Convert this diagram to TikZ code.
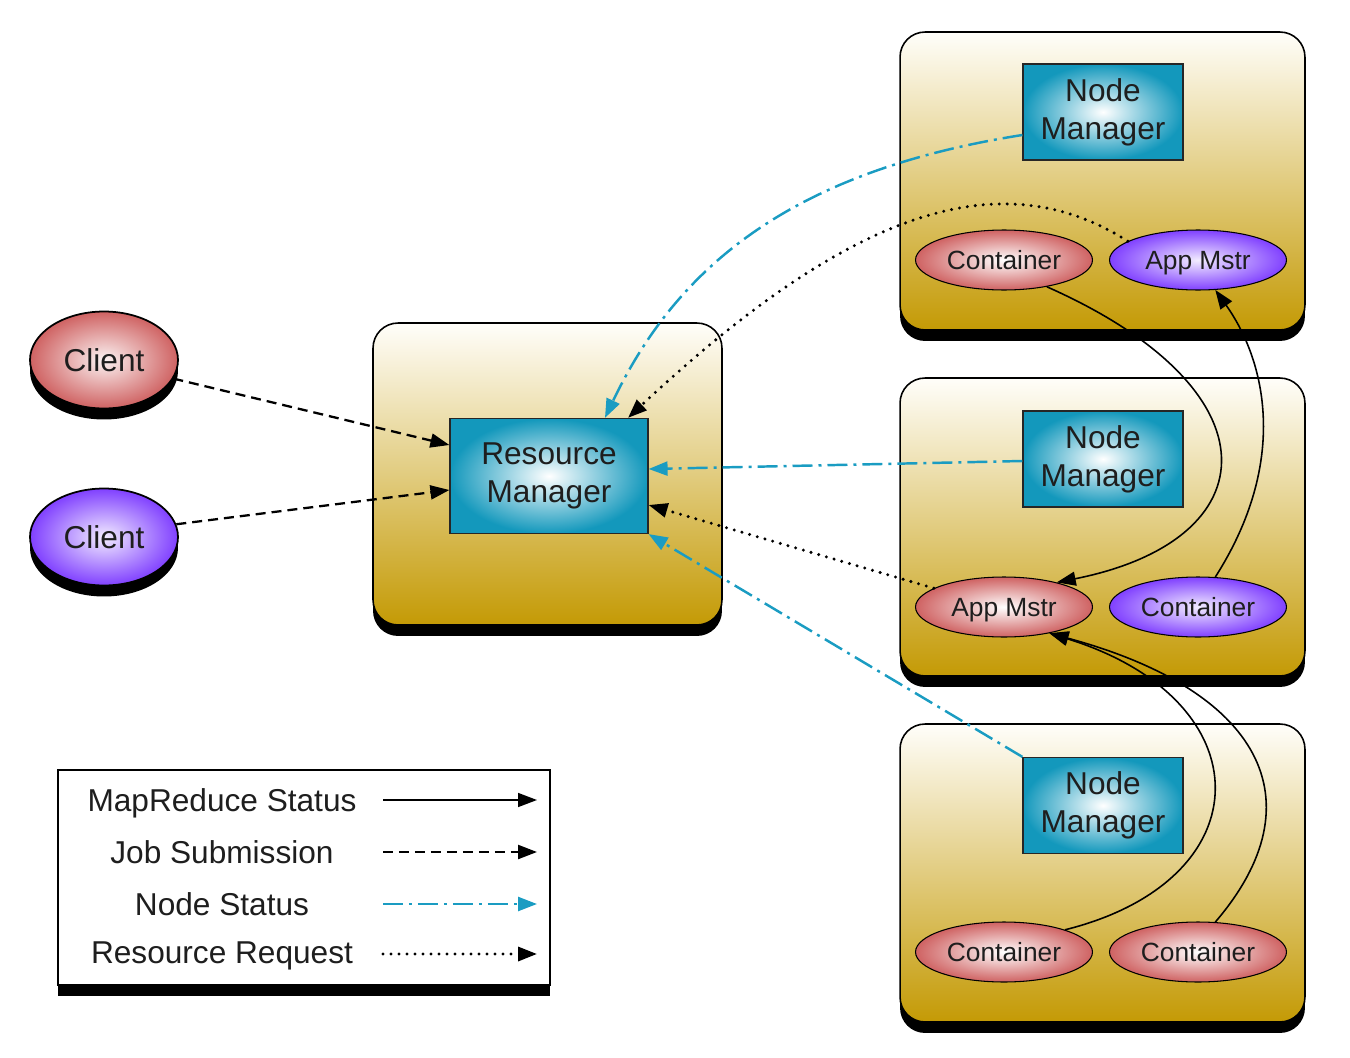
\documentclass[tikz,border=0pt]{standalone}
\usepackage{fontspec}
\setmainfont{Liberation Sans}
\usetikzlibrary{shapes.geometric,arrows.meta,shadows,calc}
\definecolor{gold}{HTML}{C49A05}
\definecolor{cream}{HTML}{FFFEFA}
\definecolor{cyanbox}{HTML}{1398BC}
\definecolor{nsline}{HTML}{1A9CC2}
\definecolor{pinkout}{HTML}{CF6262}
\definecolor{purpout}{HTML}{8040FF}
\definecolor{txt}{HTML}{1E1E1E}
\begin{document}
\begin{tikzpicture}[x=0.02cm,y=-0.02cm,
  shadowed/.style={drop shadow={shadow xshift=0cm, shadow yshift=-0.22cm, opacity=1, fill=black}},
  host/.style={draw=black, line width=0.9pt, rounded corners=0.5cm, top color=cream, bottom color=gold, shadowed},
  mgr/.style={draw=black!85, line width=0.7pt, inner color=white, outer color=cyanbox, align=center,
              font=\fontsize{18}{21.5}\selectfont, text=txt},
  ell/.style={ellipse, draw=black, line width=0.6pt, minimum width=3.54cm, minimum height=1.2cm, inner sep=0pt,
              text height=10.7pt, text depth=0pt, font=\fontsize{15}{18}\selectfont, text=txt},
  pinkell/.style={ell, inner color=white, outer color=pinkout},
  purpell/.style={ell, inner color=white!90!purpout, outer color=purpout},
  client/.style={ellipse, draw=black, line width=1pt, minimum width=2.96cm, minimum height=1.94cm, inner sep=0pt,
              text height=12.9pt, text depth=0pt, font=\fontsize{18}{21.5}\selectfont, text=txt, shadowed},
  arr/.style={-{Triangle[length=0.38cm,width=0.28cm]}},
  mrstat/.style={draw=black, line width=0.9pt, arr},
  jobsub/.style={draw=black, line width=1.3pt, dash pattern=on 0.2cm off 0.12cm, arr},
  nodestat/.style={draw=nsline, line width=1.4pt, dash pattern=on 0.4cm off 0.12cm on 0.06cm off 0.12cm,
              -{Triangle[length=0.38cm,width=0.28cm,fill=nsline]}},
  resreq/.style={draw=black, line width=1.9pt, line cap=round, dash pattern=on 0cm off 0.16cm, arr},
  legtext/.style={font=\fontsize{18}{21.5}\selectfont, text=txt, text height=12.9pt, text depth=0pt}
]
\useasboundingbox (0,0) rectangle (1350,1058);

% hosts
\node[host, minimum width=6.98cm, minimum height=6.04cm] (rmbox) at (547.5,474) {};
\node[host, minimum width=8.1cm, minimum height=5.96cm] (nm1box) at (1102.5,181) {};
\node[host, minimum width=8.1cm, minimum height=5.96cm] (nm2box) at (1102.5,527) {};
\node[host, minimum width=8.1cm, minimum height=5.96cm] (nm3box) at (1102.5,873) {};

% managers
\node[mgr, minimum width=3.96cm, minimum height=2.3cm] (rm) at (549,476) {Resource\\Manager};
\node[mgr, minimum width=3.2cm, minimum height=1.92cm] (nm1) at (1103,112) {Node\\Manager};
\node[mgr, minimum width=3.2cm, minimum height=1.92cm] (nm2) at (1103,459) {Node\\Manager};
\node[mgr, minimum width=3.2cm, minimum height=1.92cm] (nm3) at (1103,805.5) {Node\\Manager};

% containers / app masters
\node[pinkell] (ct1) at (1004,260) {Container};
\node[purpell] (am1) at (1198,260) {App Mstr};
\node[pinkell] (am2) at (1004,607) {App Mstr};
\node[purpell] (ct2) at (1198,607) {Container};
\node[pinkell] (ct3) at (1004,952) {Container};
\node[pinkell] (ct4) at (1198,952) {Container};

% clients
\node[client, inner color=white!92!pinkout, outer color=pinkout] (c1) at (104,360) {Client};
\node[client, inner color=white!90!purpout, outer color=purpout] (c2) at (104,537) {Client};

% legend
\node[draw=black, line width=1pt, fill=white, minimum width=9.84cm, minimum height=4.3cm, shadowed] (legend) at (304,877.5) {};
\node[legtext] (lg1) at (222,800) {MapReduce Status};
\node[legtext] (lg2) at (222,852) {Job Submission};
\node[legtext] (lg3) at (222,904) {Node Status};
\node[legtext] (lg4) at (222,952) {Resource Request};
\coordinate (l1a) at (383,800); \coordinate (l1b) at (537,800);
\coordinate (l2a) at (383,852); \coordinate (l2b) at (537,852);
\coordinate (l3a) at (383,904); \coordinate (l3b) at (537,904);
\coordinate (l4a) at (383,954); \coordinate (l4b) at (537,954);
\draw[mrstat] (l1a) -- (l1b);
\draw[jobsub] (l2a) -- (l2b);
\draw[nodestat] (l3a) -- (l3b);
\draw[resreq] (l4a) -- (l4b);

% job submission
\draw[jobsub] (c1.-15) -- ([yshift=0.62cm]rm.west);
\draw[jobsub] (c2.10) -- ([yshift=-0.28cm]rm.west);

% node status
\draw[nodestat] ([yshift=-0.46cm]nm1.west) .. controls (800,170) and (680,260) .. ([xshift=1.12cm]rm.north);
\draw[nodestat] ([yshift=-0.04cm]nm2.west) -- ([yshift=0.14cm]rm.east);
\draw[nodestat] (nm3.north west) -- (rm.south east);

% resource request
\draw[resreq] (am1.165) .. controls (1000,160) and (850,210) .. ([xshift=1.58cm]rm.north);
\draw[resreq] (am2.165) -- ([yshift=-0.58cm]rm.east);

% mapreduce status
\draw[mrstat] (ct1.-32) .. controls (1280,390) and (1270,540) .. (am2.25);
\draw[mrstat] (ct2.60) .. controls (1290,460) and (1265,360) .. (am1.-60);
\draw[mrstat] (ct3.20) .. controls (1265,880) and (1265,700) .. (am2.-30);
\draw[mrstat] (ct4.60) .. controls (1320,800) and (1260,690) .. (am2.-30);
\end{tikzpicture}
\end{document}
